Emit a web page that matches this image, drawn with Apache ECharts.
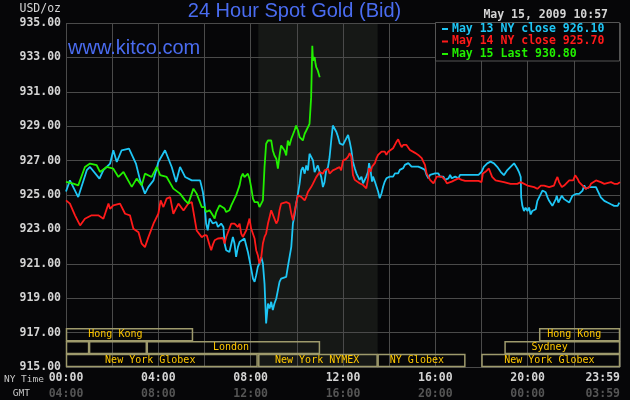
<!DOCTYPE html>
<html><head><meta charset="utf-8">
<script src="https://cdn.jsdelivr.net/npm/echarts@6/dist/echarts.min.js"></script>
<style>html,body{margin:0;padding:0;background:#060608;}#c{width:630px;height:400px;}</style>
</head><body><div id="c"></div>
<script>
// ---- data ----
const nyTickLabels = ['00:00','04:00','08:00','12:00','16:00','20:00','23:59'];
const gmtTickLabels = ['04:00','08:00','12:00','16:00','20:00','00:00','03:59'];
const legendLabels = ['May 13 NY close 926.10','May 14 NY close 925.70','May 15 Last 930.80'];
const nymexSession = [8.33, 13.5];
const sessionStarts = [0, 0, 1, 3.5, 0, 8.33, 13.5, 18, 19, 20.5];
const sessionEnds   = [5.5, 1, 3.5, 11, 8.3, 13.5, 17.3, 24, 24, 24];
const sessionRows   = [0, 1, 1, 1, 2, 2, 2, 2, 1, 0];
const sessionNames  = ['Hong Kong','','','London','New York Globex','New York NYMEX','NY Globex','New York Globex','Sydney','Hong Kong'];
const sessionLabelHours = [2.14, null, null, 7.15, 3.65, 10.88, 15.2, 20.94, 20.95, 22.02];

const may13 = [[0,925.2],[0.17,925.85],[0.53,924.88],[0.9,926.44],[1.04,926.63],[1.45,925.95],[1.62,926.44],[1.91,926.83],[2.05,927.6],[2.2,926.92],[2.41,927.6],[2.73,927.7],[3.03,926.83],[3.21,925.85],[3.42,925.08],[3.57,925.47],[3.79,925.85],[4,926.92],[4.29,927.6],[4.58,926.63],[4.77,925.76],[4.94,926.63],[5.16,926.05],[5.45,925.85],[5.81,925.85],[5.93,925.17],[6,924.5],[6.07,923.34],[6.14,922.95],[6.22,923.63],[6.36,923.34],[6.51,923.43],[6.58,923.14],[6.72,923.34],[6.82,923.14],[6.87,922.18],[6.94,921.79],[7.08,921.69],[7.23,922.56],[7.3,922.18],[7.37,921.4],[7.45,921.98],[7.52,922.27],[7.73,922.47],[7.81,922.37],[7.88,921.69],[7.95,921.21],[8.02,920.73],[8.1,920.14],[8.17,919.95],[8.24,920.34],[8.31,920.82],[8.38,921.02],[8.46,921.4],[8.53,921.02],[8.6,919.85],[8.67,917.53],[8.75,918.69],[8.82,918.4],[8.89,918.79],[8.96,918.31],[9.03,918.69],[9.11,918.98],[9.18,919.08],[9.25,919.95],[9.32,920.14],[9.4,920.05],[9.54,920.24],[9.61,920.82],[9.68,920.73],[9.76,921.98],[9.83,923.34],[9.9,923.82],[9.97,924.5],[10.05,925.08],[10.12,925.66],[10.19,926.43],[10.26,926.62],[10.34,926.24],[10.41,926.72],[10.48,926.43],[10.55,927.4],[10.62,927.5],[10.7,927.01],[10.77,926.33],[10.84,926.53],[10.91,926.72],[10.99,926.33],[11.06,926.04],[11.13,925.46],[11.2,925.75],[11.27,926.43],[11.35,926.62],[11.42,927.21],[11.49,928.17],[11.56,929.04],[11.63,928.95],[11.71,928.68],[11.78,928.4],[11.86,928.0],[11.93,928.1],[12,927.91],[12.07,928.1],[12.14,928.2],[12.22,928.49],[12.29,928.1],[12.36,927.62],[12.43,926.94],[12.51,926.56],[12.58,926.26],[12.65,926.07],[12.72,925.88],[12.8,926.07],[12.87,925.68],[12.94,925.6],[13.01,926.07],[13.09,926.36],[13.13,926.85],[13.2,926.36],[13.26,925.78],[13.3,926.07],[13.38,925.78],[13.45,925.88],[13.52,925.2],[13.59,924.81],[13.67,925.1],[13.74,925.49],[13.81,925.78],[13.88,925.97],[13.96,925.88],[14.03,926.07],[14.1,926.17],[14.17,926.07],[14.25,926.26],[14.32,926.36],[14.39,926.26],[14.46,926.46],[14.54,926.36],[14.61,926.56],[14.68,926.75],[14.75,926.65],[14.83,926.85],[14.9,926.75],[14.97,926.65],[15.12,926.65],[15.26,926.65],[15.41,926.56],[15.55,926.46],[15.62,926.17],[15.7,925.97],[15.77,926.17],[15.84,926.26],[15.99,926.26],[16.13,926.26],[16.2,926.07],[16.28,926.17],[16.35,926.07],[16.42,925.88],[16.57,925.97],[16.64,926.17],[16.71,925.97],[16.86,926.07],[17,925.97],[17.07,926.17],[17.14,926.07],[17.29,926.17],[17.87,926.17],[18.01,926.36],[18.1,926.64],[18.25,926.84],[18.39,926.94],[18.54,926.84],[18.68,926.64],[18.83,926.35],[18.97,926.15],[19.12,926.45],[19.26,926.64],[19.41,926.84],[19.48,926.74],[19.55,926.54],[19.62,926.35],[19.7,926.05],[19.72,924.86],[19.77,924.37],[19.84,924.07],[19.91,924.27],[19.99,924.07],[20.06,924.27],[20.13,923.87],[20.2,924.07],[20.28,923.97],[20.35,924.17],[20.42,924.66],[20.49,924.76],[20.57,925.06],[20.64,925.26],[20.71,925.36],[20.78,925.16],[20.86,924.86],[20.93,924.66],[21,924.56],[21.07,924.37],[21.14,924.47],[21.22,924.76],[21.26,924.96],[21.33,924.56],[21.39,924.66],[21.48,924.96],[21.58,924.76],[21.65,924.66],[21.8,924.56],[21.87,924.66],[21.94,924.96],[22.09,925.06],[22.23,925.06],[22.38,925.26],[22.45,925.56],[22.52,925.36],[22.67,925.46],[22.81,925.46],[22.96,925.46],[23.03,925.26],[23.17,924.86],[23.32,924.66],[23.46,924.56],[23.61,924.46],[23.75,924.37],[23.83,924.27],[23.9,924.37],[23.97,924.56],[24,924.56]];

const may14 = [[0,924.69],[0.17,924.5],[0.39,923.82],[0.61,923.23],[0.82,923.62],[1.11,923.82],[1.4,923.82],[1.62,923.62],[1.84,924.5],[1.91,924.2],[2.05,924.4],[2.34,924.5],[2.56,923.91],[2.77,923.82],[2.92,923.04],[3.14,922.84],[3.28,922.17],[3.42,921.97],[3.57,922.55],[3.79,923.33],[4,923.91],[4.1,924.69],[4.22,924.3],[4.36,924.79],[4.51,924.88],[4.65,923.91],[4.87,924.5],[5.09,924.1],[5.3,924.5],[5.45,924.59],[5.66,922.94],[5.88,922.55],[6,922.66],[6.1,922.65],[6.22,922.08],[6.29,921.79],[6.36,922.1],[6.44,922.37],[6.58,922.47],[6.8,922.5],[6.87,922.18],[6.94,922.56],[7.08,923.05],[7.16,923.34],[7.3,923.34],[7.45,923.14],[7.52,923.34],[7.59,922.76],[7.66,922.56],[7.81,922.95],[7.95,923.63],[8.02,923.05],[8.1,922.95],[8.17,922.47],[8.24,921.79],[8.31,921.5],[8.38,921.02],[8.46,921.4],[8.53,922.18],[8.6,922.56],[8.67,922.76],[8.75,923.34],[8.82,923.72],[8.89,924.11],[8.96,924.0],[9.03,923.63],[9.11,923.34],[9.18,923.53],[9.25,924.11],[9.32,924.5],[9.4,924.59],[9.54,924.59],[9.68,924.5],[9.76,923.92],[9.83,923.53],[9.9,924.01],[9.97,924.5],[10.05,924.98],[10.12,925.08],[10.19,924.89],[10.26,924.79],[10.34,924.69],[10.41,924.89],[10.48,925.17],[10.55,925.27],[10.62,925.46],[10.7,925.66],[10.77,925.85],[10.84,926.04],[10.91,926.14],[10.99,926.33],[11.06,926.24],[11.13,926.24],[11.2,926.43],[11.35,926.53],[11.42,926.24],[11.49,926.33],[11.56,926.43],[11.71,926.53],[11.85,926.62],[11.92,926.43],[12,927.0],[12.14,927.1],[12.22,927.23],[12.29,927.43],[12.36,927.23],[12.43,926.17],[12.51,925.88],[12.58,925.78],[12.72,925.68],[12.87,925.58],[12.94,925.49],[13.01,925.39],[13.09,925.97],[13.13,926.56],[13.2,926.36],[13.26,926.65],[13.38,926.85],[13.45,927.14],[13.52,927.33],[13.59,927.43],[13.67,927.52],[13.81,927.52],[13.88,927.33],[13.96,927.52],[14.03,927.62],[14.17,927.72],[14.25,927.81],[14.32,928.1],[14.39,928.24],[14.46,928.0],[14.54,927.78],[14.61,927.91],[14.68,927.85],[14.75,927.91],[14.83,927.81],[14.9,927.62],[15.12,927.45],[15.26,927.33],[15.41,927.14],[15.48,926.94],[15.55,926.75],[15.62,926.26],[15.7,926.07],[15.77,925.88],[15.84,925.97],[15.92,925.68],[15.99,925.78],[16.06,926.07],[16.28,926.07],[16.42,925.88],[16.5,925.68],[16.57,925.78],[16.71,925.78],[16.86,925.88],[17,925.97],[17.07,926.07],[17.14,925.88],[17.29,925.82],[17.87,925.82],[18,925.75],[18.06,926.25],[18.17,926.35],[18.32,926.54],[18.39,926.54],[18.46,926.05],[18.61,925.85],[18.97,925.75],[19.26,925.65],[19.55,925.65],[19.7,925.75],[19.99,925.55],[20.28,925.46],[20.42,925.36],[20.57,925.55],[20.71,925.55],[20.93,925.46],[21,925.36],[21.14,925.55],[21.22,925.85],[21.29,926.05],[21.36,925.75],[21.48,925.46],[21.58,925.55],[21.8,925.85],[21.97,925.85],[22.06,926.15],[22.16,925.95],[22.23,925.75],[22.38,925.55],[22.52,925.36],[22.67,925.46],[22.74,925.65],[22.81,925.75],[22.96,925.85],[23.17,925.75],[23.32,925.65],[23.61,925.75],[23.75,925.65],[23.9,925.65],[24,925.75]];

const may15 = [[0,925.76],[0.32,925.66],[0.53,925.56],[0.82,926.63],[1.04,926.83],[1.33,926.73],[1.47,926.34],[1.76,926.63],[2.05,926.53],[2.27,926.05],[2.49,926.34],[2.77,925.66],[2.85,925.47],[3.06,925.95],[3.28,925.56],[3.42,926.24],[3.71,926.05],[3.93,926.63],[4.08,926.15],[4.36,926.05],[4.65,925.37],[4.94,925.08],[5.16,924.69],[5.3,924.5],[5.52,925.37],[5.66,925.08],[5.88,924.3],[6,924.3],[6.07,924.01],[6.22,924.11],[6.36,923.82],[6.44,923.63],[6.51,924.01],[6.65,924.4],[6.72,924.5],[6.87,924.21],[6.94,924.01],[7.08,924.11],[7.16,924.4],[7.23,924.5],[7.3,924.79],[7.37,924.98],[7.45,925.08],[7.52,925.56],[7.59,926.04],[7.66,926.24],[7.73,926.04],[7.81,926.14],[7.88,926.24],[7.95,925.95],[8.02,925.46],[8.1,924.79],[8.17,924.59],[8.24,924.5],[8.31,924.59],[8.38,924.3],[8.46,924.21],[8.53,924.69],[8.6,926.62],[8.67,927.98],[8.75,928.17],[8.82,928.27],[8.89,928.17],[8.96,927.59],[9.03,927.3],[9.11,927.11],[9.18,926.53],[9.25,927.3],[9.32,927.88],[9.4,927.98],[9.47,927.59],[9.54,927.3],[9.61,928.17],[9.68,927.88],[9.76,928.27],[9.83,928.37],[9.9,928.75],[9.97,929.04],[10.05,928.75],[10.12,928.37],[10.19,928.37],[10.26,928.17],[10.34,928.56],[10.41,928.75],[10.48,928.85],[10.55,929.14],[10.62,930.69],[10.67,933.68],[10.7,932.81],[10.77,933.01],[10.8,932.72],[10.84,932.43],[10.91,932.23],[10.99,931.85]];

// ---- styles ----
const FONT = 'DejaVu Sans Mono';
const SANS = 'Liberation Sans, Arial, sans-serif';
const BG = '#060608';
const GRID = '#4a4a4a';
const colors = ['#1ec6f5', '#ff1a1a', '#22f000'];
const seriesData = [may13, may14, may15];

const chart = echarts.init(document.getElementById('c'));

const lineSeries = seriesData.map((d, i) => ({
  type: 'line', data: d, showSymbol: false, symbol: 'none',
  lineStyle: { color: colors[i], width: 1.8 }, z: 3 + i, silent: true
}));

const legendGraphics = [];
legendGraphics.push({ type: 'rect', shape: { x: 435.5, y: 22.5, width: 184, height: 38.5 },
  style: { fill: BG, stroke: '#555555', lineWidth: 1 }, z: 100 });
legendLabels.forEach((t, i) => {
  const y = 29 + i * 12.5;
  legendGraphics.push({ type: 'rect', shape: { x: 442, y: y - 1, width: 6, height: 2 },
    style: { fill: colors[i] }, z: 101 });
  legendGraphics.push({ type: 'text', x: 452, y: y,
    style: { text: t, fill: colors[i], font: 'bold 11.5px ' + FONT, textAlign: 'left', textVerticalAlign: 'middle', align: 'left', verticalAlign: 'middle' }, z: 101 });
});

const option = {
  backgroundColor: BG,
  animation: false,
  grid: { left: 66, right: 10, top: 23, bottom: 33 },
  xAxis: {
    type: 'value', min: 0, max: 24, interval: 2,
    axisLine: { show: false }, axisTick: { show: false },
    splitLine: { show: true, lineStyle: { color: GRID, width: 1 } },
    axisLabel: {
      interval: 0, margin: 3, alignMaxLabel: 'right', showMaxLabel: true, showMinLabel: true,
      formatter: function (v) {
        if (v % 4 !== 0) return '';
        const i = v / 4;
        return '{a|' + nyTickLabels[i] + '}\n{b|' + gmtTickLabels[i] + '}';
      },
      rich: {
        a: { color: '#d4d4d4', fontFamily: FONT, fontWeight: 'bold', fontSize: 11.5, lineHeight: 16 },
        b: { color: '#555555', fontFamily: FONT, fontWeight: 'bold', fontSize: 11.5, lineHeight: 16 }
      }
    }
  },
  yAxis: {
    type: 'value', min: 915, max: 935, interval: 2,
    axisLine: { show: false }, axisTick: { show: false },
    splitLine: { show: true, lineStyle: { color: GRID, width: 1 } },
    axisLabel: { margin: 5, color: '#d4d4d4', fontFamily: FONT, fontWeight: 'bold', fontSize: 11.5,
      formatter: v => v.toFixed(2) }
  },
  series: [
    {
      type: 'custom', z: -1, silent: true, clip: false,
      data: [[nymexSession[0], nymexSession[1]]],
      renderItem: function (params, api) {
        const p1 = api.coord([api.value(0), 935]);
        const p2 = api.coord([api.value(1), 915]);
        return { type: 'rect', shape: { x: p1[0], y: p1[1], width: p2[0] - p1[0], height: p2[1] - p1[1] },
          style: { fill: '#161816' } };
      }
    },
    {
      type: 'custom', z: 2, silent: true, clip: false,
      data: sessionStarts.map((s, i) => [s, sessionEnds[i], sessionRows[i]]),
      renderItem: function (params, api) {
        const idx = params.dataIndex;
        const row = api.value(2);
        const topVal = 917.25 - row * 0.75;
        const p1 = api.coord([api.value(0), topVal]);
        const p2 = api.coord([api.value(1), topVal - 0.75]);
        const children = [{
          type: 'rect',
          shape: { x: p1[0] + 0.5, y: p1[1] + 0.5, width: p2[0] - p1[0] - 1, height: p2[1] - p1[1] - 1 },
          style: { fill: 'none', stroke: '#9e9a6c', lineWidth: 1.5 }
        }];
        const name = sessionNames[idx];
        if (name) {
          const lp = api.coord([sessionLabelHours[idx], topVal - 0.375]);
          children.push({ type: 'text', x: lp[0], y: lp[1],
            style: { text: name, fill: '#ffc800', font: '10px ' + FONT, align: 'center', verticalAlign: 'middle' } });
        }
        return { type: 'group', children: children };
      }
    }
  ].concat(lineSeries),
  graphic: [
    { type: 'text', x: 294.5, y: 11, style: { text: '24 Hour Spot Gold (Bid)', fill: '#4a6cf0', font: '20px ' + SANS, textAlign: 'center', textVerticalAlign: 'middle', align: 'center', verticalAlign: 'middle' }, z: 100 },
    { type: 'text', x: 68, y: 48, style: { text: 'www.kitco.com', fill: '#4a6cf0', font: '20px ' + SANS, textAlign: 'left', textVerticalAlign: 'middle', align: 'left', verticalAlign: 'middle' }, z: 100 },
    { type: 'text', x: 61, y: 9, style: { text: 'USD/oz', fill: '#d4d4d4', font: '11.5px ' + FONT, textAlign: 'right', textVerticalAlign: 'middle', align: 'right', verticalAlign: 'middle' }, z: 100 },
    { type: 'text', x: 608, y: 15, style: { text: 'May 15, 2009 10:57', fill: '#d4d4d4', font: 'bold 11.5px ' + FONT, textAlign: 'right', textVerticalAlign: 'middle', align: 'right', verticalAlign: 'middle' }, z: 100 },
    { type: 'text', x: 44, y: 380, style: { text: 'NY Time', fill: '#c8c8c8', font: '9.5px ' + FONT, textAlign: 'right', textVerticalAlign: 'middle', align: 'right', verticalAlign: 'middle' }, z: 100 },
    { type: 'text', x: 30, y: 394, style: { text: 'GMT', fill: '#c8c8c8', font: '9.5px ' + FONT, textAlign: 'right', textVerticalAlign: 'middle', align: 'right', verticalAlign: 'middle' }, z: 100 }
  ].concat(legendGraphics)
};
chart.setOption(option);
</script>
</body></html>
